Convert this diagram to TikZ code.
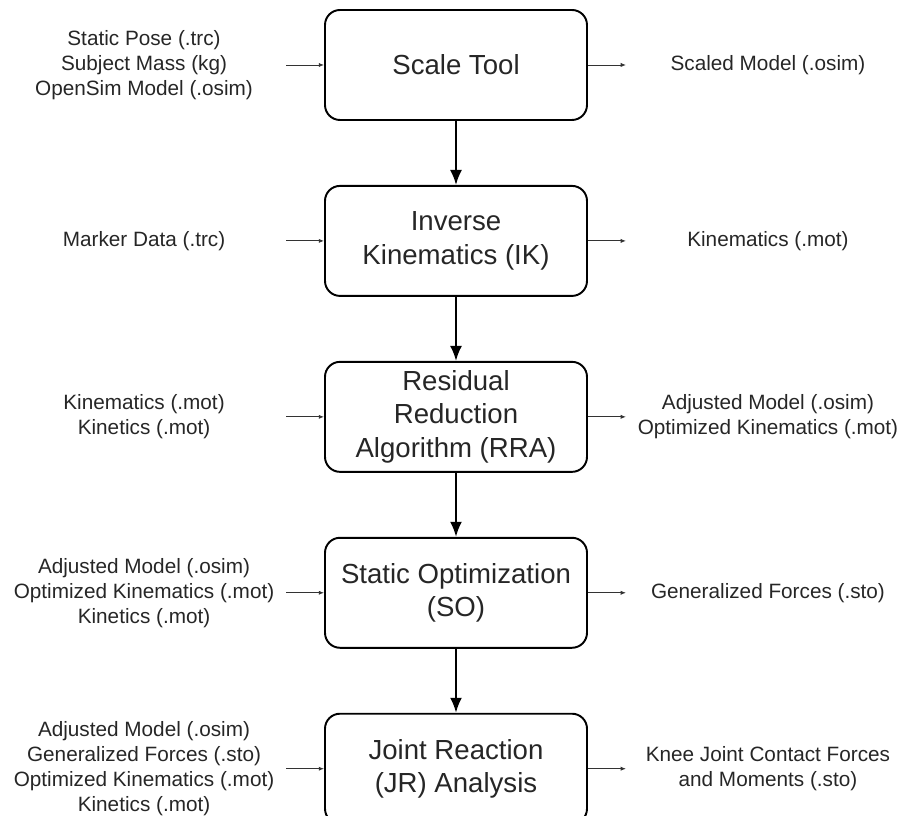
\documentclass[tikz,border=0pt]{standalone}
\usepackage{fontspec}
\setmainfont{Liberation Sans}
\usetikzlibrary{positioning,arrows.meta}
\def\boxwidth{5.24}
\def\boxheight{2.2}
\def\iodist{3.6}
\def\stub{.76}
\tikzset{
  tool/.style={
    rectangle,draw=black,line width=1.1pt,rounded corners=.3cm,
    minimum width=\boxwidth cm,minimum height=\boxheight cm,
    align=center,inner sep=2pt,text=black!85,
    font=\fontsize{15.7}{19}\selectfont
},
  io/.style={
    align=center,inner sep=0pt,text=black!85,
    font=\fontsize{11.8}{14.2}\selectfont
},
  flow/.style={->,line width=1.1pt,>={Latex[length=.3cm,width=.24cm]}},
  feed/.style={->,line width=.5pt,draw=black!80,>={Latex[length=3pt,width=2.4pt]}}
}

\begin{document}
\begin{tikzpicture}[node distance=1.28cm]
\useasboundingbox (0,0) rectangle (18,16.32);
% tools
\node[tool] (scale) at (9.12,15.02) {Scale Tool};
\node[tool,below=of scale] (ik) {Inverse\\Kinematics (IK)};
\node[tool,below=of ik] (rra) {Residual\\Reduction\\Algorithm (RRA)};
\node[tool,below=of rra] (so) {Static Optimization\\(SO)};
\node[tool,below=of so] (jr) {Joint Reaction\\(JR) Analysis};
% inputs
\node[io] (scale-in) at ([xshift=-\iodist cm]scale.west) {Static Pose (.trc)\\Subject Mass (kg)\\OpenSim Model (.osim)};
\node[io] (ik-in) at ([xshift=-\iodist cm]ik.west) {Marker Data (.trc)};
\node[io] (rra-in) at ([xshift=-\iodist cm]rra.west) {Kinematics (.mot)\\Kinetics (.mot)};
\node[io] (so-in) at ([xshift=-\iodist cm]so.west) {Adjusted Model (.osim)\\Optimized Kinematics (.mot)\\Kinetics (.mot)};
\node[io] (jr-in) at ([xshift=-\iodist cm]jr.west) {Adjusted Model (.osim)\\Generalized Forces (.sto)\\Optimized Kinematics (.mot)\\Kinetics (.mot)};
% outputs
\node[io] (scale-out) at ([xshift=\iodist cm]scale.east) {Scaled Model (.osim)};
\node[io] (ik-out) at ([xshift=\iodist cm]ik.east) {Kinematics (.mot)};
\node[io] (rra-out) at ([xshift=\iodist cm]rra.east) {Adjusted Model (.osim)\\Optimized Kinematics (.mot)};
\node[io] (so-out) at ([xshift=\iodist cm]so.east) {Generalized Forces (.sto)};
\node[io] (jr-out) at ([xshift=\iodist cm]jr.east) {Knee Joint Contact Forces\\and Moments (.sto)};
\foreach \a/\b in {scale/ik,ik/rra,rra/so,so/jr}
    \draw[flow] (\a) -- (\b);
\foreach \n in {scale,ik,rra,so,jr}{
    \coordinate (\n-L) at ([xshift=-\stub cm]\n.west);
    \coordinate (\n-R) at ([xshift=\stub cm]\n.east);
    \draw[feed] (\n-L) -- (\n.west);
    \draw[feed] (\n.east) -- (\n-R);
}
\end{tikzpicture}
\end{document}
